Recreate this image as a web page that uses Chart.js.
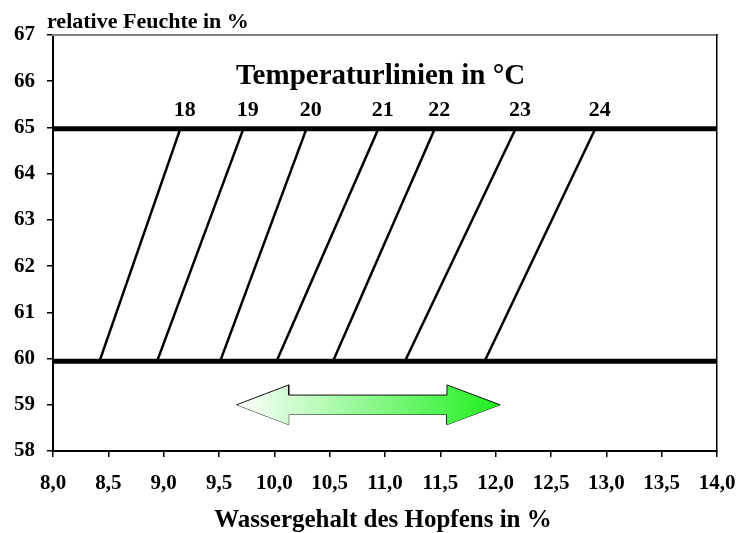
<!DOCTYPE html>
<html>
<head>
<meta charset="utf-8">
<script src="https://cdn.jsdelivr.net/npm/chart.js@4/dist/chart.umd.min.js"></script>
<style>
  html, body { margin: 0; padding: 0; background: #fff; }
  canvas { display: block; }
</style>
</head>
<body>
<canvas id="feuchte-chart" width="736" height="533"></canvas>
<script>
// temperature lines: water content (x) at the lower and upper humidity line
const temps = [18, 19, 20, 21, 22, 23, 24];
const xAtLow = [8.42, 8.94, 9.51, 10.02, 10.53, 11.18, 11.90];
const xAtHigh = [9.15, 9.72, 10.29, 10.94, 11.45, 12.18, 12.90];
const rhLow = 59.94;
const rhHigh = 64.97;

// double arrow (range of water content)
const arrowX = [9.66, 10.13, 10.13, 11.56, 11.56, 12.04];
const arrowUpper = [59, 59.43, 59.21, 59.21, 59.43, 59];
const arrowLower = [59, 58.57, 58.79, 58.79, 58.57, 59];

const yTitle = 'relative Feuchte in %';
const xTitle = 'Wassergehalt des Hopfens in %';
const lineTitle = 'Temperaturlinien in °C';

const serif = "'Liberation Serif', 'Times New Roman', serif";

const datasets = [];

[rhLow, rhHigh].forEach(v => {
    datasets.push({
        data: [{x: 8, y: v}, {x: 14, y: v}],
        borderColor: '#000',
        borderWidth: 5,
        pointRadius: 0,
        showLine: true
    });
});

temps.forEach((t, i) => {
    datasets.push({
        label: t + ' °C',
        data: [{x: xAtLow[i], y: rhLow}, {x: xAtHigh[i], y: rhHigh}],
        borderColor: '#000',
        borderWidth: 2.5,
        pointRadius: 0,
        showLine: true
    });
});

function arrowGradient(context) {
    const chart = context.chart;
    if (!chart.chartArea) return 'rgba(0,0,0,0)';
    const x = chart.scales.x;
    const g = chart.ctx.createLinearGradient(x.getPixelForValue(arrowX[0]), 0, x.getPixelForValue(arrowX[arrowX.length - 1]), 0);
    g.addColorStop(0, '#ffffff');
    g.addColorStop(1, '#1ef01e');
    return g;
}

datasets.push({
    data: arrowX.map((x, i) => ({x: x, y: arrowUpper[i]})),
    borderColor: '#111',
    borderWidth: 1,
    pointRadius: 0,
    showLine: true,
    backgroundColor: arrowGradient,
    fill: '+1'
});
datasets.push({
    data: arrowX.map((x, i) => ({x: x, y: arrowLower[i]})),
    borderColor: '#111',
    borderWidth: 1,
    pointRadius: 0,
    showLine: true,
    fill: false
});

const textPlugin = {
    id: 'texts',
    afterDraw(chart) {
        const {ctx} = chart;
        const x = chart.scales.x, y = chart.scales.y;
        ctx.save();
        ctx.fillStyle = '#000';
        ctx.textAlign = 'center';
        ctx.textBaseline = 'middle';
        ctx.font = 'bold 29px ' + serif;
        ctx.fillText(lineTitle, x.getPixelForValue(10.96), y.getPixelForValue(66.1));
        ctx.font = 'bold 22px ' + serif;
        temps.forEach((t, i) => {
            ctx.fillText(String(t), x.getPixelForValue(xAtHigh[i] + 0.04), y.getPixelForValue(65.36));
        });
        ctx.textBaseline = 'alphabetic';
        ctx.font = 'bold 25px ' + serif;
        ctx.fillText(xTitle, 383, 527);
        ctx.textAlign = 'left';
        ctx.font = 'bold 22px ' + serif;
        ctx.fillText(yTitle, 47, 28);
        ctx.restore();
    }
};

new Chart('feuchte-chart', {
    type: 'scatter',
    data: {datasets: datasets},
    plugins: [textPlugin],
    options: {
        responsive: false,
        animation: false,
        layout: {padding: 0},
        plugins: {
            legend: {display: false},
            title: {display: false},
            tooltip: {enabled: false}
        },
        scales: {
            x: {
                type: 'linear',
                position: 'bottom',
                min: 8,
                max: 14,
                ticks: {
                    stepSize: 0.5,
                    padding: 14,
                    color: '#000',
                    font: {family: serif, size: 21, weight: 'bold'},
                    callback: v => v.toFixed(1).replace('.', ',')
                },
                grid: {drawOnChartArea: false, tickLength: 6, color: '#000', lineWidth: 1.5},
                border: {color: '#000', width: 2},
                afterFit: s => { s.height = 82; s.paddingLeft = 0; s.paddingRight = 0; }
            },
            y: {
                type: 'linear',
                position: 'left',
                min: 58,
                max: 67,
                ticks: {
                    stepSize: 1,
                    padding: 12,
                    color: '#000',
                    font: {family: serif, size: 21, weight: 'bold'}
                },
                grid: {drawOnChartArea: false, tickLength: 6, color: '#000', lineWidth: 1.5},
                border: {color: '#000', width: 2},
                afterFit: s => { s.width = 53; s.paddingTop = 0; s.paddingBottom = 0; }
            },
            xTop: {
                type: 'linear',
                position: 'top',
                min: 0,
                max: 1,
                ticks: {display: false},
                grid: {display: false},
                border: {color: '#808080', width: 2},
                afterFit: s => { s.height = 35; }
            },
            yRight: {
                type: 'linear',
                position: 'right',
                min: 0,
                max: 1,
                ticks: {display: false},
                grid: {display: false},
                border: {color: '#000', width: 1.5},
                afterFit: s => { s.width = 19; }
            }
        }
    }
});
</script>
</body>
</html>
